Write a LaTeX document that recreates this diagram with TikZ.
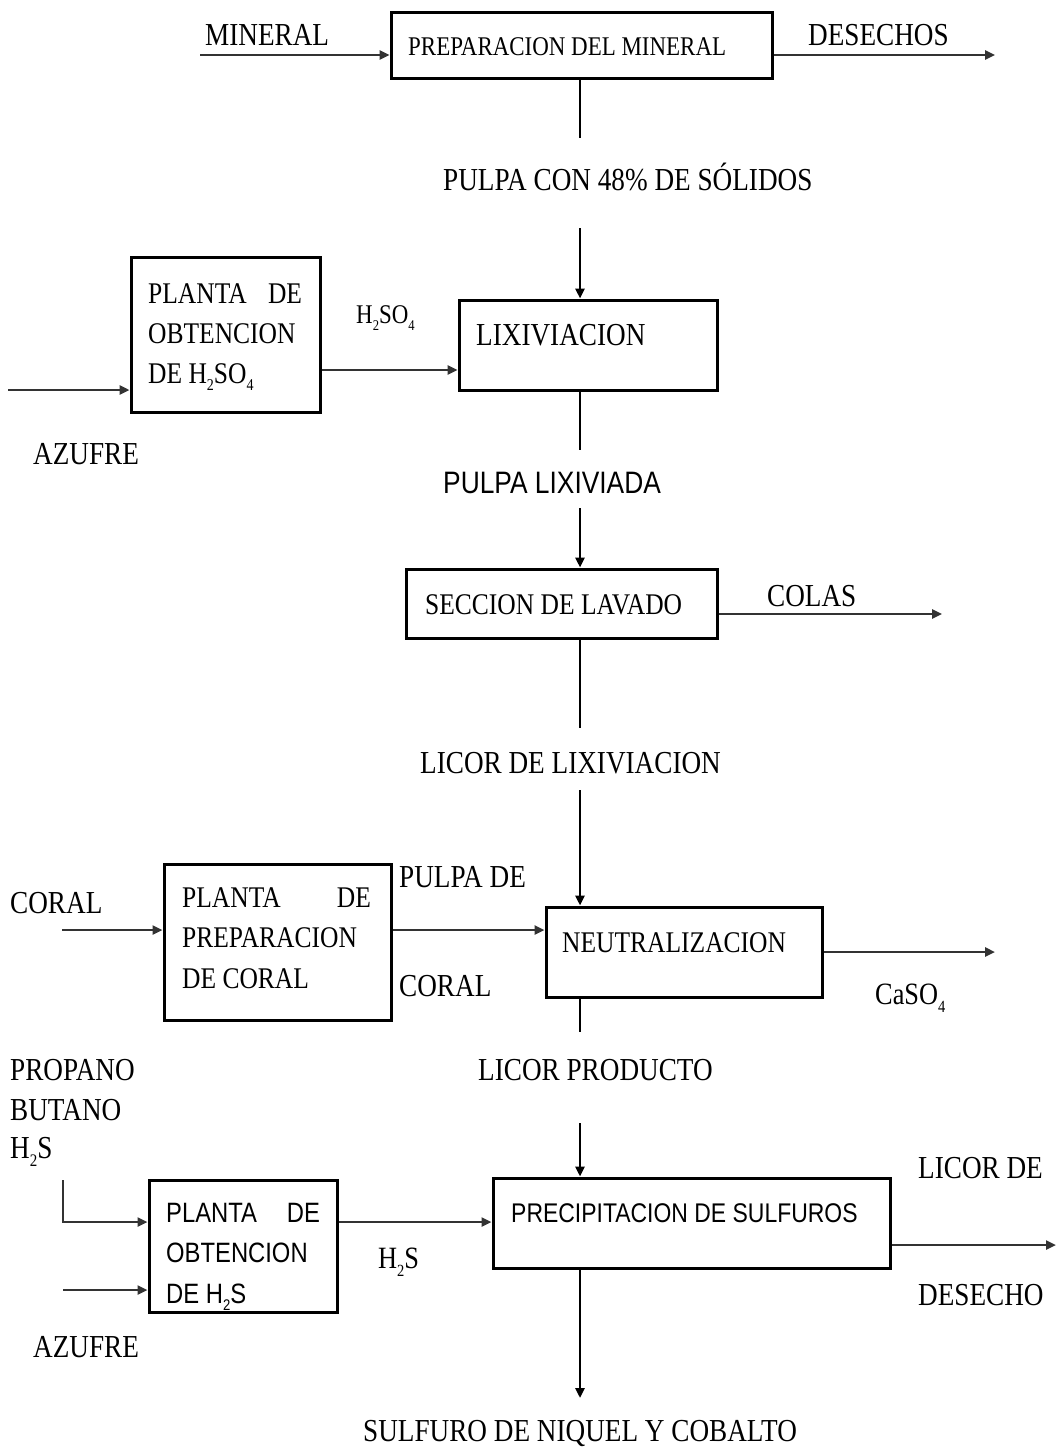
\documentclass[tikz,border=0pt]{standalone}
\usepackage{fontspec}
\setmainfont{Liberation Serif}
\newfontfamily\arialf{Liberation Sans}
\usetikzlibrary{arrows.meta}
\newcommand\sq[1]{\scalebox{0.85}[1]{#1}}
\newcommand\fs[1]{\fontsize{#1}{#1}\selectfont}
\newcommand\sub[1]{\raisebox{-0.25em}{\fontsize{0.55em}{0.55em}\selectfont #1}}
\begin{document}
\begin{tikzpicture}[x=1pt,y=-1pt,
  box/.style={draw, line width=3pt, inner sep=0pt},
  lab/.style={anchor=west, inner sep=0pt, font=\fs{32}},
  conn/.style={draw=black!80, line width=2.4pt},
  flow/.style={conn, -{Triangle[length=10pt,width=9pt]}},
  vline/.style={draw=black, line width=2.6pt},
  vflow/.style={vline, -{Triangle[length=10pt,width=9pt]}}]
\useasboundingbox (0,0) rectangle (1057,1448);

% boxes
\node[box, minimum width=381pt, minimum height=66pt] (prep) at (581.5,45) {};
\node[box, minimum width=189pt, minimum height=155pt] (hso) at (225.5,334.5) {};
\node[box, minimum width=258pt, minimum height=90pt] (lix) at (588,345) {};
\node[box, minimum width=311pt, minimum height=69pt] (lav) at (561.5,603.5) {};
\node[box, minimum width=227pt, minimum height=156pt] (cor) at (277.5,942) {};
\node[box, minimum width=276pt, minimum height=90pt] (neu) at (684,952) {};
\node[box, minimum width=188pt, minimum height=132pt] (hs) at (243,1246) {};
\node[box, minimum width=397pt, minimum height=90pt] (pre) at (691.5,1223) {};

% box texts
\node[lab, font=\fs{27}] (prepT) at (408,47) {\sq{PREPARACION DEL MINERAL}};
\node[anchor=north west, inner sep=0pt] (hsoT) at (148,283)
  {\sq{\parbox{181pt}{\fontsize{30}{40}\selectfont\makebox[181pt][s]{PLANTA DE}\\OBTENCION\\DE H\sub{2}SO\sub{4}}}};
\node[lab] (lixT) at (476,335) {\sq{LIXIVIACION}};
\node[lab, font=\fs{30}] (lavT) at (425,605) {\sq{SECCION DE LAVADO}};
\node[anchor=north west, inner sep=0pt] (corT) at (182,887)
  {\sq{\parbox{222pt}{\fontsize{30}{40.5}\selectfont\makebox[222pt][s]{PLANTA DE}\\PREPARACION\\DE CORAL}}};
\node[lab, font=\fs{30}] (neuT) at (562,943) {\sq{NEUTRALIZACION}};
\node[anchor=north west, inner sep=0pt] (hsT) at (166,1203)
  {\sq{\parbox{181pt}{\arialf\fontsize{28}{40.5}\selectfont\makebox[181pt][s]{PLANTA DE}\\OBTENCION\\DE H\sub{2}S}}};
\node[lab, font=\arialf\fs{27}] (preT) at (511,1213) {\sq{PRECIPITACION DE SULFUROS}};

% stream labels
\node[lab] (lMin) at (205,35) {\sq{MINERAL}};
\node[lab] (lDes) at (808,35) {\sq{DESECHOS}};
\node[lab] (lPul) at (443,177) {\sq{PULPA CON 48\% DE SÓLIDOS}};
\node[lab, font=\fs{27}] (lHso) at (356,318) {\sq{H\sub{2}SO\sub{4}}};
\node[lab] (lAz1) at (33,454) {\sq{AZUFRE}};
\node[lab, font=\arialf\fs{31}] (lPLx) at (443,483) {\sq{PULPA LIXIVIADA}};
\node[lab] (lCol) at (767,596) {\sq{COLAS}};
\node[lab] (lLic) at (420,763) {\sq{LICOR DE LIXIVIACION}};
\node[lab] (lCor) at (10,903) {\sq{CORAL}};
\node[lab] (lPd) at (399,877) {\sq{PULPA DE}};
\node[lab] (lPc) at (399,986) {\sq{CORAL}};
\node[lab, font=\fs{31}] (lCa) at (875,998) {\sq{CaSO\sub{4}}};
\node[lab] (lLP) at (478,1070) {\sq{LICOR PRODUCTO}};
\node[lab] (lPro) at (10,1070) {\sq{PROPANO}};
\node[lab] (lBut) at (10,1110) {\sq{BUTANO}};
\node[lab] (lHs1) at (10,1152) {\sq{H\sub{2}S}};
\node[lab, font=\fs{31}] (lHs2) at (378,1262) {\sq{H\sub{2}S}};
\node[lab] (lLd) at (918,1168) {\sq{LICOR DE}};
\node[lab] (lDh) at (918,1295) {\sq{DESECHO}};
\node[lab] (lAz2) at (33,1347) {\sq{AZUFRE}};
\node[lab] (lSul) at (363,1433) {\sq{SULFURO DE NIQUEL Y COBALTO}};

% free ends
\coordinate (inMin) at (200,55);
\coordinate (outDes) at (995,55);
\coordinate (c1) at (580,138);
\coordinate (c2) at (580,228);
\coordinate (inAz1) at (8,390);
\coordinate (yHso) at (0,370);
\coordinate (c3) at (580,450);
\coordinate (c4) at (580,508);
\coordinate (outCol) at (942,614);
\coordinate (c5) at (580,728);
\coordinate (c6) at (580,790);
\coordinate (inCor) at (62,930);
\coordinate (outCa) at (995,952);
\coordinate (c7) at (580,1032);
\coordinate (c8) at (580,1123);
\coordinate (inGas) at (63,1180);
\coordinate (bend) at (63,1222);
\coordinate (inAz2) at (63,1290);
\coordinate (outLd) at (1056,1245);
\coordinate (c9) at (580,1398);

% connectors
\draw[flow] (inMin) -- (inMin -| prep.west);
\draw[flow] (outDes -| prep.east) -- (outDes);
\draw[vline] (c1 |- prep.south) -- (c1);
\draw[vflow] (c2) -- (c2 |- lix.north);
\draw[flow] (inAz1) -- (inAz1 -| hso.west);
\draw[flow] (yHso -| hso.east) -- (yHso -| lix.west);
\draw[vline] (c3 |- lix.south) -- (c3);
\draw[vflow] (c4) -- (c4 |- lav.north);
\draw[flow] (outCol -| lav.east) -- (outCol);
\draw[vline] (c5 |- lav.south) -- (c5);
\draw[vflow] (c6) -- (c6 |- neu.north);
\draw[flow] (inCor) -- (inCor -| cor.west);
\draw[flow] (inCor -| cor.east) -- (inCor -| neu.west);
\draw[flow] (outCa -| neu.east) -- (outCa);
\draw[vline] (c7 |- neu.south) -- (c7);
\draw[vflow] (c8) -- (c8 |- pre.north);
\draw[flow] (inGas) -- (bend) -- (bend -| hs.west);
\draw[flow] (inAz2) -- (inAz2 -| hs.west);
\draw[flow] (bend -| hs.east) -- (bend -| pre.west);
\draw[flow] (outLd -| pre.east) -- (outLd);
\draw[vflow] (c9 |- pre.south) -- (c9);
\end{tikzpicture}
\end{document}
